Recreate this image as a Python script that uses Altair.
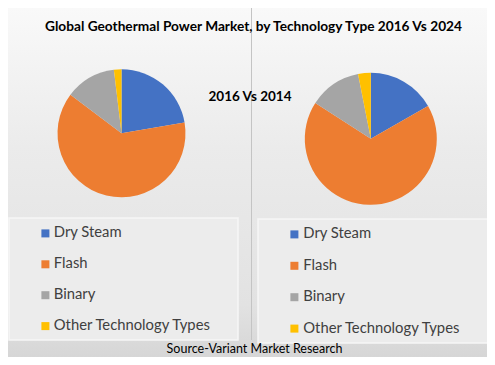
import altair as alt
import pandas as pd

categories = ["Dry Steam", "Flash", "Binary", "Other Technology Types"]
share_2016 = [22.3, 63.0, 12.8, 1.9]
share_2024 = [16.7, 67.4, 12.8, 3.1]
colors = ["#4472C4", "#ED7D31", "#A5A5A5", "#FFC000"]
title_text = "Global Geothermal Power Market, by Technology Type 2016  Vs 2024"
middle_text = "2016 Vs 2014"
source_text = "Source-Variant Market Research"

W, H = 479, 349
FONT = "Lato"

df16 = pd.DataFrame({"type": categories, "share": share_2016, "order": list(range(4))})
df24 = pd.DataFrame({"type2": categories, "share": share_2024, "order": list(range(4))})
one = pd.DataFrame({"a": [0]})

bg = alt.Chart(one).mark_rect(
    fill=alt.Gradient(
        gradient="linear",
        stops=[alt.GradientStop(color="#f9f9f9", offset=0),
               alt.GradientStop(color="#ebebeb", offset=0.4),
               alt.GradientStop(color="#e2e2e2", offset=0.85),
               alt.GradientStop(color="#d6d6d6", offset=1)],
        x1=0, x2=0, y1=0, y2=1),
).encode(x=alt.value(0), x2=alt.value(W), y=alt.value(0), y2=alt.value(H))

divider = alt.Chart(one).mark_rule(color="#c4c4c4", strokeWidth=1).encode(
    x=alt.value(243.5), y=alt.value(0), y2=alt.value(332))

box_left = alt.Chart(one).mark_rect(fill="#ececec", stroke="#f6f6f6", strokeWidth=1.5).encode(
    x=alt.value(1), x2=alt.value(230), y=alt.value(210), y2=alt.value(332))
box_right = alt.Chart(one).mark_rect(fill="#ececec", stroke="#f6f6f6", strokeWidth=1.5).encode(
    x=alt.value(250), x2=alt.value(480), y=alt.value(211), y2=alt.value(335))

def legend(lx, ly, rp, off):
    return alt.Legend(
        title=None, orient="none", legendX=lx, legendY=ly, direction="vertical",
        symbolType="square", symbolSize=64, symbolStrokeWidth=0,
        labelFont=FONT, labelFontSize=14.8, labelColor="#404040",
        rowPadding=rp, labelOffset=off, padding=0, labelLimit=400)

pie_left = alt.Chart(df16).mark_arc(outerRadius=64).encode(
    theta=alt.Theta("share:Q", stack=True),
    color=alt.Color("type:N", scale=alt.Scale(domain=categories, range=colors),
                    legend=legend(30, 218, 14.9, 1)),
    order=alt.Order("order:Q"),
    x=alt.value(113.5), y=alt.value(125.3))

pie_right = alt.Chart(df24).mark_arc(outerRadius=66).encode(
    theta=alt.Theta("share:Q", stack=True),
    color=alt.Color("type2:N", scale=alt.Scale(domain=categories, range=colors),
                    legend=legend(279, 219, 15.4, 1.5)),
    order=alt.Order("order:Q"),
    x=alt.value(362.8), y=alt.value(130.8))

title = alt.Chart(pd.DataFrame({"t": [title_text]})).mark_text(
    font=FONT, fontSize=13.7, fontWeight="bold", color="#000000", align="center", baseline="middle"
).encode(text="t:N", x=alt.value(245.5), y=alt.value(19))

middle = alt.Chart(pd.DataFrame({"t": [middle_text]})).mark_text(
    font=FONT, fontSize=13.5, fontWeight="bold", color="#000000", align="center", baseline="middle"
).encode(text="t:N", x=alt.value(242), y=alt.value(89))

source = alt.Chart(pd.DataFrame({"t": [source_text]})).mark_text(
    font=FONT, fontSize=12.5, color="#000000", align="center", baseline="alphabetic"
).encode(text="t:N", x=alt.value(246.5), y=alt.value(345))

chart = alt.layer(bg, divider, box_left, box_right, pie_left, pie_right, title, middle, source
).resolve_scale(theta="independent", color="independent").resolve_legend(
    color="independent"
).properties(
    width=W, height=H, padding=0, autosize="none", background="#ffffff"
).configure_view(stroke=None)

chart.save("out.html", embed_options={"renderer": "svg", "actions": False})
